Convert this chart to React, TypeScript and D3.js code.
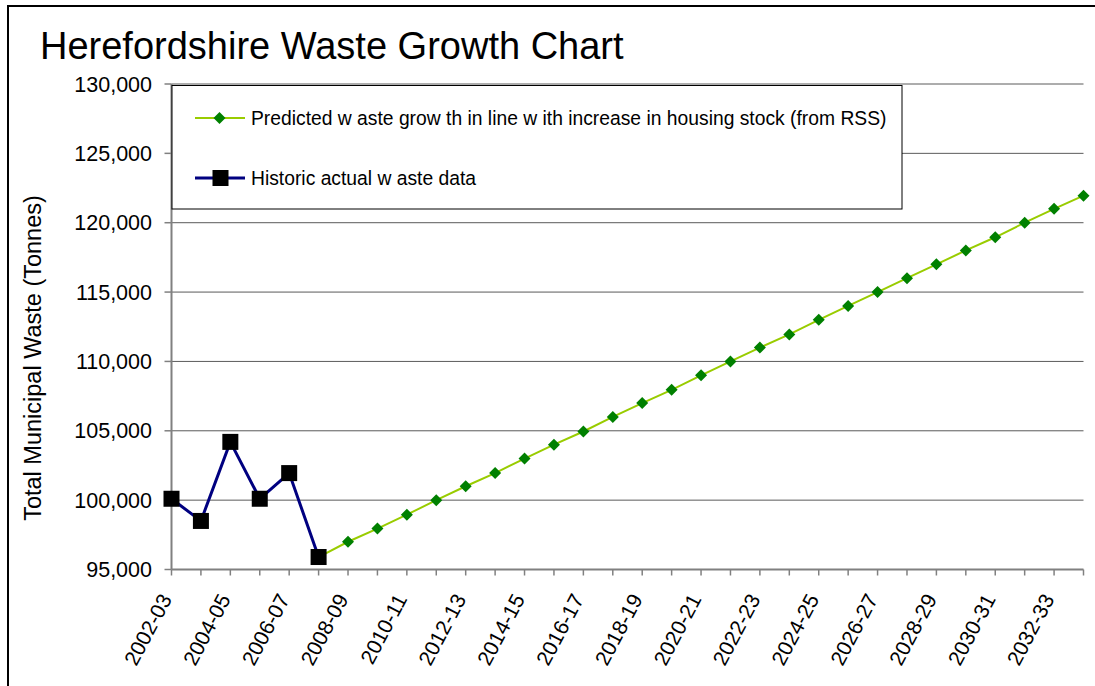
import React from "react";
import * as d3 from "d3";

const categories = [
  "2002-03", "2003-04", "2004-05", "2005-06", "2006-07", "2007-08", "2008-09", "2009-10",
  "2010-11", "2011-12", "2012-13", "2013-14", "2014-15", "2015-16", "2016-17", "2017-18",
  "2018-19", "2019-20", "2020-21", "2021-22", "2022-23", "2023-24", "2024-25", "2025-26",
  "2026-27", "2027-28", "2028-29", "2029-30", "2030-31", "2031-32", "2032-33", "2033-34",
];

const historicCategories = ["2002-03", "2003-04", "2004-05", "2005-06", "2006-07", "2007-08"];
const historicValues = [100100, 98500, 104200, 100100, 101950, 95900];

const predictedStart = 5; // index of 2007-08 in categories
const predictedValues = [
  95900, 97000, 97950, 98950, 100000, 101000, 101950, 103000, 104000, 104950, 106000,
  107000, 107950, 109000, 110000, 111000, 111950, 113000, 114000, 115000, 116000,
  117000, 118000, 118950, 120000, 121000, 121950,
];

const yTicks = [95000, 100000, 105000, 110000, 115000, 120000, 125000, 130000];

const titleText = "Herefordshire Waste Growth Chart";
const yAxisTitle = "Total Municipal Waste (Tonnes)";
const legendPredicted = "Predicted w aste grow th in line w ith increase in housing stock (from RSS)";
const legendHistoric = "Historic actual w aste data";

const FONT = "'Liberation Sans', Arial, sans-serif";

export default function App() {
  const W = 1095;
  const H = 686;
  const x = d3.scalePoint<string>().domain(categories).range([171.5, 1083.5]);
  const y = d3.scaleLinear().domain([95000, 130000]).range([569.5, 84]);
  const fmt = d3.format(",");

  const predicted = predictedValues.map((v, i) => ({ c: categories[predictedStart + i], v }));
  const historic = historicValues.map((v, i) => ({ c: historicCategories[i], v }));

  const line = d3
    .line<{ c: string; v: number }>()
    .x((d) => x(d.c) as number)
    .y((d) => y(d.v));

  const diamond = (cx: number, cy: number, r: number) =>
    `M${cx},${cy - r}L${cx + r},${cy}L${cx},${cy + r}L${cx - r},${cy}Z`;

  const x0 = 171.5;
  const x1 = 1083.5;
  const yBase = y(95000);

  return (
    <svg
      width={W}
      height={H}
      style={{ position: "absolute", left: 0, top: 0, background: "#fff" }}
      fontFamily={FONT}
    >
      <rect x={0} y={0} width={W} height={H} fill="#fff" />
      <rect x={8} y={6} width={1110} height={720} fill="none" stroke="#000" strokeWidth={2} />

      <text x={40} y={59} fontSize={38} fill="#000">
        {titleText}
      </text>

      {/* gridlines */}
      {yTicks.slice(1).map((t) => (
        <line key={"g" + t} x1={x0} x2={x1} y1={y(t)} y2={y(t)} stroke="#5a5a5a" strokeWidth={1} />
      ))}

      {/* y axis */}
      <line x1={x0} x2={x0} y1={y(130000)} y2={yBase} stroke="#808080" strokeWidth={2} />
      {yTicks.map((t) => (
        <g key={"yt" + t}>
          <line x1={x0 - 7} x2={x0} y1={y(t)} y2={y(t)} stroke="#808080" strokeWidth={1.5} />
          <text x={152} y={y(t)} dy="0.35em" textAnchor="end" fontSize={21.5} fill="#000">
            {fmt(t)}
          </text>
        </g>
      ))}

      {/* x axis */}
      <line x1={x0} x2={x1} y1={yBase} y2={yBase} stroke="#808080" strokeWidth={2} />
      {categories.map((c, i) => (
        <g key={"xt" + c}>
          <line
            x1={x(c) as number}
            x2={x(c) as number}
            y1={yBase}
            y2={yBase + 6}
            stroke="#808080"
            strokeWidth={1.5}
          />
          {i % 2 === 0 && (
            <text
              transform={`translate(${(x(c) as number) + 1},${599}) rotate(-62)`}
              textAnchor="end"
              fontSize={21}
              fill="#000"
            >
              {c}
            </text>
          )}
        </g>
      ))}

      <text transform={`translate(41,358) rotate(-90)`} textAnchor="middle" fontSize={23.5} fill="#000">
        {yAxisTitle}
      </text>

      {/* predicted series */}
      <path d={line(predicted) || ""} fill="none" stroke="#99cc00" strokeWidth={2} />
      {predicted.map((d) => (
        <path key={"p" + d.c} d={diamond(x(d.c) as number, y(d.v), 6)} fill="#008000" />
      ))}

      {/* historic series */}
      <path d={line(historic) || ""} fill="none" stroke="#000080" strokeWidth={3} />
      {historic.map((d) => (
        <rect
          key={"h" + d.c}
          x={(x(d.c) as number) - 8}
          y={y(d.v) - 8}
          width={16}
          height={16}
          fill="#000"
        />
      ))}

      {/* legend */}
      <rect x={172} y={85.5} width={730} height={123.5} fill="#fff" stroke="#000" strokeWidth={1} />
      <line x1={195} x2={245} y1={118} y2={118} stroke="#99cc00" strokeWidth={2} />
      <path d={diamond(219.5, 118, 6)} fill="#008000" />
      <text x={251} y={118} dy="0.35em" fontSize={19.3} fill="#000">
        {legendPredicted}
      </text>
      <line x1={195} x2={245} y1={178} y2={178} stroke="#000080" strokeWidth={3} />
      <rect x={212.5} y={170} width={16} height={16} fill="#000" />
      <text x={251} y={178} dy="0.35em" fontSize={19.3} fill="#000">
        {legendHistoric}
      </text>
    </svg>
  );
}
